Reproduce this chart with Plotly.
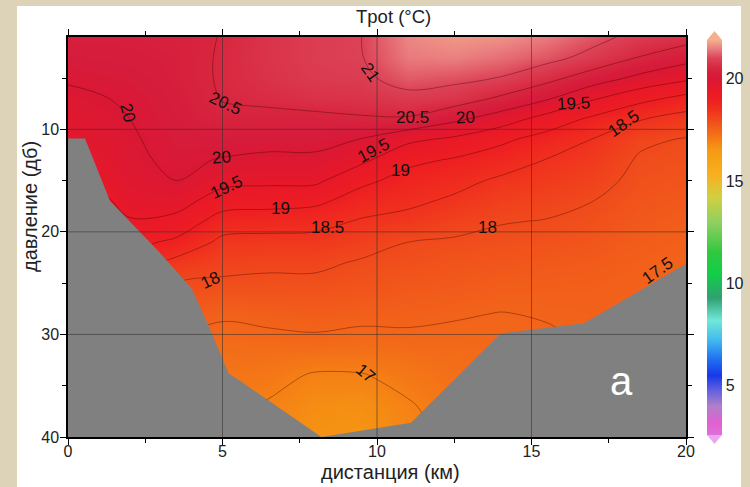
import plotly.graph_objects as go

# ---------------- data ----------------
distance_km = [0, 2, 3.5, 5, 6.5, 8, 9.5, 11, 12.5, 14, 15.5, 17, 18.5, 20]
pressure_db = [1, 3, 5, 7, 9, 11, 13, 15, 17, 19, 21, 23, 25, 28, 31, 34, 37, 40]

# potential temperature (°C) per station, top to bottom (one value per pressure level)
t_00km = [20.3, 20.2, 20.05, 19.9, 19.8, 19.7, 19.5, 19.3, 19.0, 18.7, 18.4, 18.2, 18.0, 17.8, 17.6, 17.4, 17.2, 17.0]
t_02km = [20.3, 20.25, 20.15, 20.05, 20.0, 19.95, 19.9, 19.8, 19.7, 19.45, 19.15, 18.8, 18.5, 18.15, 17.85, 17.55, 17.3, 17.1]
t_035km = [20.35, 20.3, 20.3, 20.25, 20.2, 20.15, 20.1, 20.0, 19.7, 19.35, 18.9, 18.35, 18.0, 17.7, 17.45, 17.3, 17.2, 17.1]
t_05km = [20.52, 20.55, 20.55, 20.52, 20.4, 20.2, 19.97, 19.65, 19.25, 18.75, 18.38, 18.15, 17.93, 17.55, 17.35, 17.2, 17.1, 17.0]
t_065km = [20.75, 20.75, 20.72, 20.6, 20.37, 20.15, 19.9, 19.6, 19.2, 18.7, 18.35, 18.1, 17.9, 17.6, 17.38, 17.15, 16.95, 16.85]
t_08km = [20.9, 20.9, 20.85, 20.7, 20.38, 20.15, 19.9, 19.6, 19.12, 18.65, 18.35, 18.1, 17.9, 17.65, 17.4, 16.95, 16.75, 16.65]
t_095km = [21.0, 20.98, 20.9, 20.72, 20.45, 19.98, 19.6, 19.12, 18.75, 18.45, 18.2, 17.95, 17.85, 17.6, 17.35, 16.97, 16.7, 16.6]
t_11km = [21.55, 21.45, 21.2, 20.85, 20.45, 19.6, 19.12, 18.82, 18.6, 18.35, 18.0, 17.9, 17.75, 17.58, 17.4, 17.15, 16.95, 16.85]
t_125km = [21.7, 21.5, 21.12, 20.75, 20.1, 19.4, 18.95, 18.65, 18.42, 18.15, 17.95, 17.82, 17.72, 17.53, 17.4, 17.3, 17.2, 17.1]
t_14km = [21.65, 21.35, 20.98, 20.42, 19.75, 19.1, 18.75, 18.42, 18.2, 18.02, 17.9, 17.78, 17.65, 17.49, 17.42, 17.35, 17.3, 17.25]
t_155km = [21.45, 21.15, 20.65, 20.05, 19.3, 18.8, 18.48, 18.3, 18.12, 17.98, 17.85, 17.72, 17.62, 17.52, 17.45, 17.4, 17.35, 17.3]
t_17km = [21.15, 20.85, 20.25, 19.55, 18.9, 18.48, 18.3, 18.15, 18.0, 17.88, 17.78, 17.68, 17.6, 17.55, 17.5, 17.45, 17.4, 17.35]
t_185km = [20.85, 20.48, 19.88, 19.15, 18.53, 18.08, 17.95, 17.88, 17.8, 17.72, 17.65, 17.58, 17.55, 17.5, 17.45, 17.42, 17.4, 17.38]
t_20km = [20.7, 20.18, 19.6, 18.85, 18.3, 17.97, 17.88, 17.8, 17.72, 17.64, 17.57, 17.51, 17.45, 17.4, 17.35, 17.3, 17.28, 17.25]

# sea-bottom outline (distance km, pressure dB)
bottom_distance = [0, 0, 0.55, 1.36, 2.9, 4.0, 4.57, 5.2, 5.6, 8.2, 11.1, 14.0, 16.7, 20, 20, 0]
bottom_pressure = [40, 10.9, 10.9, 17.0, 21.8, 25.5, 29.3, 33.8, 34.6, 40, 38.6, 29.9, 28.9, 23.1, 40, 40]

# contour labels (distance, pressure, text, rotation)
label_distance = [9.79, 5.09, 1.94, 11.15, 12.87, 4.96, 5.12, 9.89, 6.87, 10.76, 8.4, 16.37, 17.99, 13.58, 4.6, 19.09, 9.63]
label_pressure = [4.44, 7.46, 8.44, 8.83, 8.83, 12.7, 15.66, 12.05, 17.7, 14.0, 19.56, 7.46, 9.41, 19.56, 24.73, 23.76, 33.8]
label_text = ["21", "20.5", "20", "20.5", "20", "20", "19.5", "19.5", "19", "19", "18.5", "19.5", "18.5", "18", "18", "17.5", "17"]
label_angle = [55, 25, 75, 0, -3, -5, -25, -28, 0, 0, 0, -3, -35, 0, -25, -35, 40]

contour_levels = [17, 21, 0.5]  # start, end, step

x_ticks = [0, 5, 10, 15, 20]
y_ticks = [10, 20, 30, 40]
cbar_ticks = [5, 10, 15, 20]

# colour scale (value -> colour)
scale_values = [2.6, 3.2, 4.0, 4.8, 5.5, 6.3, 7.2, 8.2, 9.3, 10.5, 11.5, 13.0, 14.2, 15.3, 16.5, 17.0, 17.5,
                18.0, 18.5, 19.0, 19.5, 20.0, 20.2, 20.5, 21.0, 21.5, 21.9]
scale_colors = ["#e070d8", "#e060d0", "#b080c8", "#6060e0", "#1838e8", "#2070f0", "#40b8f0", "#70e8d8",
                "#30a070", "#10d048", "#30c840", "#90d060", "#d0d040", "#f8b020", "#f59a12", "#f57f15",
                "#f2641a", "#f04a1c", "#f0301e", "#ee1e22", "#e81828", "#da1834", "#d61c3c", "#d8263e",
                "#dc4256", "#ea8080", "#f4b08c"]

# ---------------- figure ----------------
FIG_W, FIG_H = 750, 487
M_L, M_R, M_T, M_B = 68, 64, 37, 50
PLOT_W = FIG_W - M_L - M_R
PLOT_H = FIG_H - M_T - M_B


def px_x(px):
    return (px - M_L) / PLOT_W


def px_y(py):
    return (FIG_H - M_B - py) / PLOT_H


columns = [t_00km, t_02km, t_035km, t_05km, t_065km, t_08km, t_095km, t_11km, t_125km,
           t_14km, t_155km, t_17km, t_185km, t_20km]
z = [[col[i] for col in columns] for i in range(len(pressure_db))]

zmin, zmax = scale_values[0], scale_values[-1]
colorscale = [[(v - zmin) / (zmax - zmin), c] for v, c in zip(scale_values, scale_colors)]

FONT = "Arial, 'Liberation Sans', sans-serif"

fig = go.Figure()
fig.add_trace(go.Heatmap(
    x=distance_km, y=pressure_db, z=z, zsmooth="best",
    colorscale=colorscale, zmin=zmin, zmax=zmax, hoverinfo="skip",
    colorbar=dict(
        x=px_x(707), xanchor="left", xpad=0,
        y=px_y(435), yanchor="bottom", ypad=0,
        len=(435 - 40) / PLOT_H, lenmode="fraction",
        thickness=15, thicknessmode="pixels",
        outlinewidth=0, ticks="", tickvals=cbar_ticks,
        tickfont=dict(family=FONT, size=16, color="#222"),
    ),
))
fig.add_trace(go.Contour(
    x=distance_km, y=pressure_db, z=z, showscale=False, hoverinfo="skip",
    contours=dict(start=contour_levels[0], end=contour_levels[1], size=contour_levels[2],
                  coloring="none", showlabels=False),
    line=dict(color="rgba(50,0,0,0.45)", width=0.8, smoothing=1.0),
))
fig.add_trace(go.Scatter(
    x=bottom_distance, y=bottom_pressure, mode="lines", fill="toself",
    fillcolor="#808080", line=dict(width=0, color="#808080"), hoverinfo="skip",
    showlegend=False,
))

shapes = []
# white page over beige paper
shapes.append(dict(type="rect", xref="paper", yref="paper", layer="below",
                   x0=px_x(17), x1=px_x(741), y0=px_y(FIG_H + 2), y1=px_y(6),
                   fillcolor="white", line=dict(width=0)))
# grid lines above the data
for xv in x_ticks[1:-1]:
    shapes.append(dict(type="line", xref="x", yref="paper", x0=xv, x1=xv, y0=0, y1=1,
                       layer="above", line=dict(color="rgba(45,45,45,0.55)", width=1)))
for yv in y_ticks[:-1]:
    shapes.append(dict(type="line", xref="paper", yref="y", x0=0, x1=1, y0=yv, y1=yv,
                       layer="above", line=dict(color="rgba(45,45,45,0.55)", width=1)))
# colour bar end triangles
cx0, cx1 = px_x(707), px_x(722)
cxm = (cx0 + cx1) / 2
shapes.append(dict(type="path", xref="paper", yref="paper",
                   path=f"M {cx0} {px_y(40)} L {cxm} {px_y(31)} L {cx1} {px_y(40)} Z",
                   fillcolor=scale_colors[-1], line=dict(width=0)))
shapes.append(dict(type="path", xref="paper", yref="paper",
                   path=f"M {cx0} {px_y(435)} L {cxm} {px_y(444)} L {cx1} {px_y(435)} Z",
                   fillcolor="#e8a8f0", line=dict(width=0)))

annotations = []
for d, p, t, a in zip(label_distance, label_pressure, label_text, label_angle):
    annotations.append(dict(x=d, y=p, xref="x", yref="y", text=t, textangle=a, showarrow=False,
                            xanchor="center", yanchor="middle",
                            font=dict(family=FONT, size=17, color="#111")))
annotations.append(dict(x=17.9, y=34.5, xref="x", yref="y", text="a", showarrow=False,
                        xanchor="center", yanchor="middle",
                        font=dict(family=FONT, size=40, color="white")))
annotations.append(dict(x=px_x(393), y=px_y(17), xref="paper", yref="paper", text="Tpot (°C)",
                        xanchor="center", yanchor="middle",
                        showarrow=False, font=dict(family=FONT, size=18.5, color="#222")))
annotations.append(dict(x=px_x(391), y=px_y(472), xref="paper", yref="paper", text="дистанция (км)",
                        xanchor="center", yanchor="middle",
                        showarrow=False, font=dict(family=FONT, size=20, color="#222")))
annotations.append(dict(x=px_x(30), y=px_y(207), xref="paper", yref="paper", text="давление (дб)",
                        xanchor="center", yanchor="middle",
                        textangle=-90, showarrow=False, font=dict(family=FONT, size=20, color="#222")))

axis_common = dict(showline=True, linecolor="black", linewidth=1.5, mirror="ticks",
                   ticks="outside", ticklen=6, tickwidth=1.3, tickcolor="black",
                   showgrid=False, zeroline=False,
                   tickfont=dict(family=FONT, size=16, color="#222"))

fig.update_layout(
    width=FIG_W, height=FIG_H,
    margin=dict(l=M_L, r=M_R, t=M_T, b=M_B, autoexpand=False),
    paper_bgcolor="#dcd3b8", plot_bgcolor="white",
    showlegend=False,
    xaxis=dict(range=[0, 20], tickvals=x_ticks, ticklabelstandoff=-7,
               minor=dict(ticks="outside", ticklen=4, dtick=2.5, tickcolor="black", tickwidth=1),
               **axis_common),
    yaxis=dict(range=[40, 1], tickvals=y_ticks, ticklabelstandoff=-2,
               minor=dict(ticks="outside", ticklen=4, tickvals=[5, 15, 25, 35], tickcolor="black", tickwidth=1),
               **axis_common),
    shapes=shapes, annotations=annotations,
)

fig.write_html("out.html")
